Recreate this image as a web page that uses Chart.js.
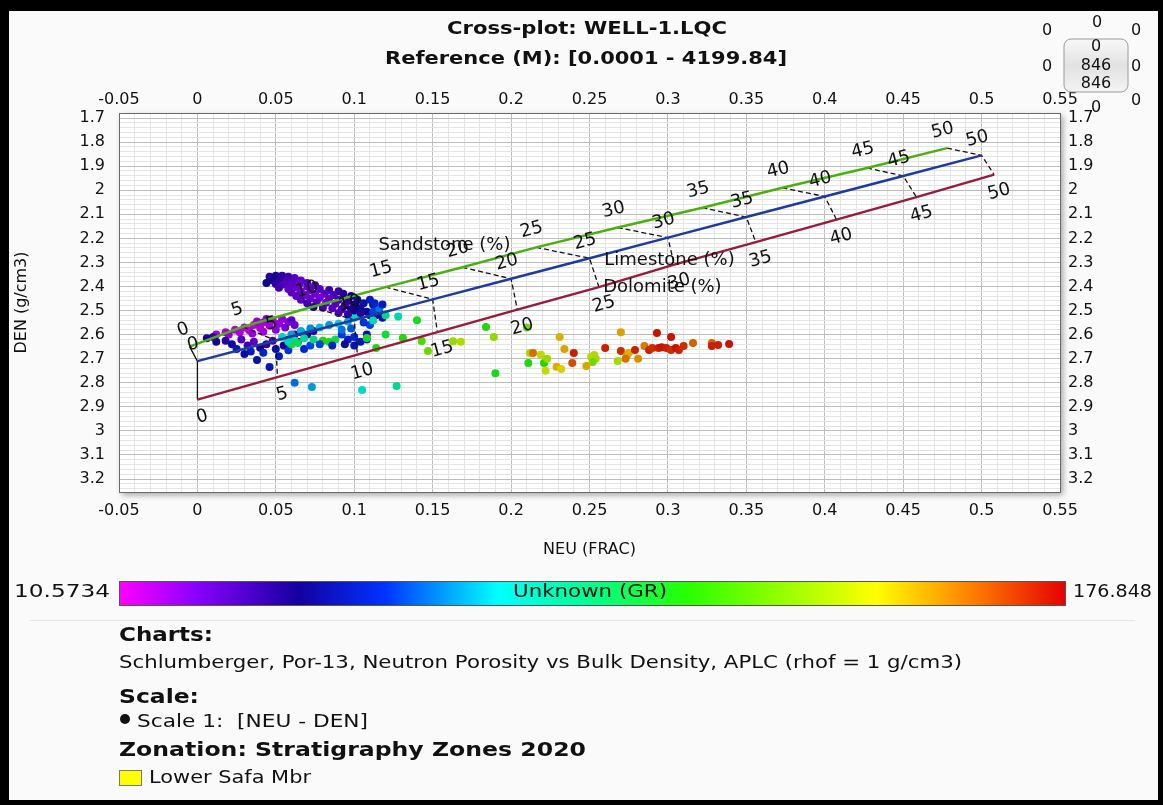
<!DOCTYPE html>
<html>
<head>
<meta charset="utf-8">
<script src="https://cdn.jsdelivr.net/npm/chart.js@4.4.1/dist/chart.umd.min.js"></script>
<style>
  html, body { margin: 0; padding: 0; background: #000; }
  canvas { display: block; }
</style>
</head>
<body>
<canvas id="xplot" width="1163" height="805"></canvas>
<script>
// tick labels
let xTicks = [-0.05, 0, 0.05, 0.1, 0.15, 0.2, 0.25, 0.3, 0.35, 0.4, 0.45, 0.5, 0.55];
let yTicks = [1.7, 1.8, 1.9, 2, 2.1, 2.2, 2.3, 2.4, 2.5, 2.6, 2.7, 2.8, 2.9, 3, 3.1, 3.2];

// Por-13 chart lines (porosity %, neutron, density)
let porLabels = [0, 5, 10, 15, 20, 25, 30, 35, 40, 45, 50];
let sandNeu = [-0.005, 0.029, 0.073, 0.120, 0.169, 0.216, 0.268, 0.322, 0.373, 0.427, 0.478];
let sandDen = [2.65, 2.5675, 2.485, 2.4025, 2.32, 2.2375, 2.155, 2.0725, 1.99, 1.9075, 1.825];
let limeNeu = [0, 0.05, 0.1, 0.15, 0.2, 0.25, 0.3, 0.35, 0.4, 0.45, 0.5];
let limeDen = [2.71, 2.6245, 2.539, 2.4535, 2.368, 2.2825, 2.197, 2.1115, 2.026, 1.9405, 1.855];
let dolNeu = [0, 0.051, 0.102, 0.153, 0.204, 0.256, 0.304, 0.356, 0.4075, 0.4585, 0.508];
let dolDen = [2.87, 2.7765, 2.683, 2.5895, 2.496, 2.4025, 2.309, 2.2155, 2.122, 2.0285, 1.935];

// log samples: NEU, DEN, GR
let neuPts = [
  // violet blob
  0.046, 0.050, 0.054, 0.058, 0.062, 0.048, 0.053, 0.057, 0.061, 0.066,
  0.044, 0.050, 0.055, 0.060, 0.065, 0.070, 0.052, 0.058, 0.064, 0.070,
  0.075, 0.060, 0.066, 0.072, 0.078, 0.084, 0.090, 0.063, 0.069, 0.075,
  0.081, 0.087, 0.093, 0.098, 0.066, 0.072, 0.078, 0.084, 0.090, 0.096,
  0.102, 0.070, 0.076, 0.082, 0.088, 0.094, 0.100, 0.106, 0.110, 0.112,
  0.074, 0.080, 0.086, 0.092, 0.098, 0.104, 0.108, 0.114, 0.116,
  // magenta streak
  0.012, 0.018, 0.024, 0.030, 0.036, 0.042, 0.048, 0.054, 0.020, 0.027,
  0.033, 0.040, 0.046, 0.052, 0.058, 0.035, 0.042, 0.050, 0.044, 0.038,
  0.056, 0.062, 0.060,
  // blue below sandstone line
  0.006, 0.012, 0.010, 0.018, 0.022, 0.028, 0.025, 0.032, 0.036, 0.040,
  0.044, 0.048, 0.050, 0.034, 0.042, 0.055, 0.058, 0.062, 0.066, 0.064,
  0.070, 0.074, 0.068, 0.072, 0.058, 0.038, 0.046, 0.030, 0.052,
  // cyan / light blue near limestone line
  0.060, 0.066, 0.072, 0.078, 0.084, 0.090, 0.096, 0.100, 0.104, 0.062,
  0.068, 0.074, 0.060, 0.064, 0.080, 0.084, 0.088, 0.078, 0.086, 0.092,
  0.096, 0.100, 0.104, 0.108, 0.108, 0.100, 0.094, 0.110, 0.112, 0.106,
  0.098, 0.092, 0.054, 0.058,
  // right blue group
  0.100, 0.104, 0.110, 0.114, 0.118, 0.112, 0.116, 0.113, 0.118, 0.096, 0.090,
  // scattered
  0.062, 0.073, 0.105, 0.127, 0.108, 0.114, 0.120, 0.120, 0.128, 0.140,
  0.131, 0.143, 0.147, 0.112, 0.163, 0.168, 0.184, 0.189, 0.190, 0.210,
  0.212, 0.214, 0.219, 0.211, 0.221, 0.222, 0.223, 0.229, 0.232, 0.231,
  0.234, 0.240, 0.239, 0.248, 0.251, 0.253, 0.254, 0.252, 0.260, 0.268,
  0.270, 0.270, 0.274, 0.275, 0.273, 0.279, 0.281, 0.285, 0.288, 0.290,
  0.293, 0.294, 0.296, 0.299, 0.302, 0.302, 0.305, 0.307, 0.310, 0.316,
  0.328, 0.328, 0.332, 0.339
];
let denPts = [
  2.360, 2.355, 2.355, 2.360, 2.365, 2.375, 2.372, 2.378, 2.380, 2.375,
  2.385, 2.390, 2.392, 2.395, 2.390, 2.385, 2.405, 2.410, 2.405, 2.400,
  2.395, 2.425, 2.420, 2.415, 2.410, 2.415, 2.420, 2.440, 2.435, 2.430,
  2.430, 2.435, 2.430, 2.440, 2.455, 2.450, 2.447, 2.450, 2.455, 2.460,
  2.455, 2.470, 2.465, 2.468, 2.472, 2.478, 2.475, 2.470, 2.455, 2.475,
  2.485, 2.488, 2.490, 2.495, 2.495, 2.490, 2.505, 2.495, 2.510,
  2.600, 2.590, 2.580, 2.570, 2.560, 2.550, 2.540, 2.535, 2.600, 2.590,
  2.582, 2.572, 2.562, 2.555, 2.548, 2.595, 2.588, 2.580, 2.535, 2.545,
  2.570, 2.560, 2.540,
  2.615, 2.630, 2.610, 2.625, 2.640, 2.620, 2.660, 2.645, 2.630, 2.655,
  2.640, 2.625, 2.660, 2.670, 2.675, 2.645, 2.620, 2.600, 2.590, 2.630,
  2.600, 2.585, 2.660, 2.645, 2.665, 2.705, 2.735, 2.680, 2.690,
  2.600, 2.585, 2.575, 2.570, 2.560, 2.555, 2.545, 2.530, 2.525, 2.625,
  2.615, 2.620, 2.640, 2.635, 2.625, 2.630, 2.620, 2.640, 2.645, 2.600,
  2.620, 2.610, 2.630, 2.600, 2.620, 2.645, 2.640, 2.560, 2.540, 2.550,
  2.575, 2.580, 2.610, 2.630,
  2.500, 2.510, 2.520, 2.520, 2.530, 2.505, 2.490, 2.470, 2.475, 2.515, 2.510,
  2.800, 2.818, 2.830, 2.813, 2.614, 2.656, 2.600, 2.520, 2.525, 2.540,
  2.614, 2.626, 2.668, 2.540, 2.628, 2.630, 2.568, 2.610, 2.760, 2.570,
  2.676, 2.676, 2.684, 2.718, 2.718, 2.750, 2.700, 2.734, 2.743, 2.610,
  2.660, 2.676, 2.718, 2.730, 2.693, 2.685, 2.700, 2.714, 2.656, 2.710,
  2.590, 2.668, 2.684, 2.676, 2.700, 2.664, 2.700, 2.647, 2.664, 2.656,
  2.593, 2.656, 2.652, 2.656, 2.610, 2.664, 2.656, 2.664, 2.647, 2.635,
  2.635, 2.647, 2.643, 2.639
];
let grPts = [
  38, 40, 36, 34, 30, 42, 38, 32, 30, 28,
  44, 36, 30, 28, 26, 30, 34, 28, 26, 28,
  32, 30, 26, 28, 30, 34, 36, 28, 24, 26,
  30, 32, 40, 44, 30, 26, 24, 28, 32, 38,
  46, 34, 28, 26, 30, 36, 42, 48, 52, 50,
  38, 32, 30, 34, 40, 46, 44, 55, 50,
  18, 16, 15, 14, 15, 16, 18, 20, 20, 17,
  15, 16, 18, 20, 22, 19, 18, 21, 22, 20,
  24, 26, 28,
  40, 44, 36, 38, 46, 30, 50, 34, 28, 42,
  36, 32, 48, 52, 54, 44, 40, 36, 32, 46,
  40, 36, 56, 60, 58, 48, 50, 46, 52,
  70, 72, 68, 74, 70, 76, 72, 80, 84, 84,
  88, 92, 104, 98, 110, 106, 100, 60, 54, 58,
  52, 56, 50, 48, 54, 50, 46, 60, 64, 58,
  62, 66, 76, 86,
  42, 38, 46, 40, 48, 60, 66, 54, 52, 36, 32,
  65, 70, 80, 90, 105, 108, 102, 92, 85, 106,
  110, 118, 124, 82, 132, 136, 110, 130, 106, 125,
  136, 160, 138, 108, 110, 140, 132, 150, 145, 150,
  152, 172, 165, 152, 138, 136, 134, 125, 172, 134,
  152, 170, 155, 150, 160, 172, 155, 158, 172, 170,
  174, 172, 174, 172, 174, 170, 174, 172, 170, 162,
  162, 172, 172, 174
];
let grMin = 10.5734, grMax = 176.848;

// colour ramp of the GR bar
const ramp = [
  [0.00, [255, 0, 255]], [0.08, [140, 0, 255]], [0.19, [20, 0, 160]],
  [0.28, [0, 50, 255]], [0.40, [0, 255, 255]], [0.50, [0, 255, 140]],
  [0.60, [40, 255, 0]], [0.72, [170, 255, 0]], [0.80, [255, 255, 0]],
  [0.90, [255, 128, 0]], [1.00, [230, 0, 0]]
];
function rampColor(t, k) {
  t = Math.max(0, Math.min(1, t));
  for (let i = 1; i < ramp.length; i++) {
    if (t <= ramp[i][0]) {
      const a = ramp[i - 1], b = ramp[i];
      const f = (t - a[0]) / (b[0] - a[0]);
      const c = a[1].map((v, j) => Math.round((v + (b[1][j] - v) * f) * k));
      return 'rgb(' + c.join(',') + ')';
    }
  }
  return 'rgb(230,0,0)';
}
const grColor = g => rampColor((g - grMin) / (grMax - grMin), 0.85);

const F = '"DejaVu Sans", Verdana, sans-serif';
const fmt = v => String(parseFloat(v.toFixed(3)));
const near = (arr, v) => arr.some(m => Math.abs(m - v) < 1e-6);

function tickList(lo, hi, step) {
  const out = [];
  for (let v = lo; v <= hi + 1e-9; v += step) out.push(Math.round(v * 1000) / 1000);
  return out;
}
const xAll = tickList(-0.05, 0.55, 0.01);
const yAll = tickList(1.68, 3.24, 0.02);

const points = neuPts.map((x, i) => ({ x: x, y: denPts[i] }));
const xy = (xs, ys) => xs.map((x, i) => ({ x: x, y: ys[i] }));

let datasets = [
  { type: 'line', data: xy(sandNeu, sandDen), borderColor: '#4caf10', borderWidth: 2.5, pointRadius: 0, order: 1 },
  { type: 'line', data: xy(limeNeu, limeDen), borderColor: '#1e3c9e', borderWidth: 2.5, pointRadius: 0, order: 1 },
  { type: 'line', data: xy(dolNeu, dolDen), borderColor: '#961c3a', borderWidth: 2.5, pointRadius: 0, order: 1 }
];
porLabels.forEach((p, i) => {
  datasets.push({
    type: 'line',
    data: [{ x: sandNeu[i], y: sandDen[i] }, { x: limeNeu[i], y: limeDen[i] }, { x: dolNeu[i], y: dolDen[i] }],
    borderColor: '#111', borderWidth: 1.3, borderDash: i === 0 ? [] : [5, 3],
    pointRadius: 0, order: 2
  });
});
datasets.push({
  type: 'scatter', data: points, order: 10,
  pointRadius: 4, pointBorderWidth: 0,
  pointBackgroundColor: grPts.map(grColor)
});

function fitText(ctx, text, left, y, w) {
  const m = ctx.measureText(text).width;
  ctx.save();
  ctx.translate(left, y);
  ctx.scale(w / m, 1);
  ctx.textAlign = 'left';
  ctx.fillText(text, 0, 0);
  ctx.restore();
}

const backdrop = {
  id: 'backdrop',
  beforeDraw(chart) {
    const ctx = chart.ctx, a = chart.chartArea;
    ctx.save();
    ctx.fillStyle = '#000';
    ctx.fillRect(0, 0, chart.width, chart.height);
    ctx.fillStyle = '#fafafa';
    ctx.fillRect(9, 11, 1149, 789);
    ctx.shadowColor = 'rgba(0,0,0,0.35)';
    ctx.shadowBlur = 6;
    ctx.shadowOffsetX = 3;
    ctx.shadowOffsetY = 3;
    ctx.fillStyle = '#fff';
    ctx.fillRect(a.left, a.top, a.right - a.left, a.bottom - a.top);
    ctx.restore();
  }
};

function porText(chart, xs, ys, side, dist) {
  const sx = chart.scales.x, sy = chart.scales.y, ctx = chart.ctx;
  for (let i = 0; i < porLabels.length; i++) {
    const px = sx.getPixelForValue(xs[i]), py = sy.getPixelForValue(ys[i]);
    const j0 = Math.max(0, i - 1), j1 = Math.min(xs.length - 1, i + 1);
    const dx = sx.getPixelForValue(xs[j1]) - sx.getPixelForValue(xs[j0]);
    const dy = sy.getPixelForValue(ys[j1]) - sy.getPixelForValue(ys[j0]);
    const ang = Math.atan2(dy, dx);
    const nx = Math.sin(ang) * side * dist, ny = -Math.cos(ang) * side * dist;
    ctx.save();
    ctx.translate(px + nx, py + ny);
    ctx.rotate(ang);
    ctx.fillText(String(porLabels[i]), 0, 0);
    ctx.restore();
  }
}

const overlay = {
  id: 'overlay',
  afterDatasetsDraw(chart) {
    const ctx = chart.ctx, sx = chart.scales.x, sy = chart.scales.y;
    ctx.save();
    ctx.fillStyle = '#111';
    ctx.textAlign = 'center';
    ctx.textBaseline = 'middle';
    ctx.font = '18px ' + F;
    porText(chart, sandNeu, sandDen, 1, 18);
    porText(chart, limeNeu, limeDen, 1, 17);
    porText(chart, dolNeu, dolDen, -1, 18);
    ctx.font = '18px ' + F;
    ctx.fillText('Sandstone (%)', sx.getPixelForValue(0.1575), sy.getPixelForValue(2.227));
    ctx.fillText('Limestone (%)', sx.getPixelForValue(0.301), sy.getPixelForValue(2.29));
    ctx.fillText('Dolomite (%)', sx.getPixelForValue(0.2965), sy.getPixelForValue(2.402));
    ctx.restore();
  },
  afterDraw(chart) {
    const ctx = chart.ctx;
    ctx.save();
    ctx.fillStyle = '#111';
    ctx.textBaseline = 'middle';
    // titles
    ctx.font = 'bold 17px ' + F;
    fitText(ctx, 'Cross-plot: WELL-1.LQC', 447, 30, 280);
    fitText(ctx, 'Reference (M): [0.0001 - 4199.84]', 385, 60, 402);

    // small counter box, top right
    const g = ctx.createLinearGradient(0, 39, 0, 92);
    g.addColorStop(0, '#f8f8f8'); g.addColorStop(0.5, '#e2e2e2'); g.addColorStop(1, '#f4f4f4');
    ctx.fillStyle = g;
    ctx.strokeStyle = '#9a9a9a';
    ctx.beginPath();
    ctx.roundRect(1064, 39, 64, 53, 7);
    ctx.fill(); ctx.stroke();
    ctx.fillStyle = '#111';
    ctx.font = '16px ' + F;
    ctx.textAlign = 'center';
    [[1047, 31, '0'], [1097, 23, '0'], [1136, 31, '0'], [1096, 47, '0'], [1096, 66, '846'],
     [1096, 84, '846'], [1047, 67, '0'], [1136, 67, '0'], [1096, 108, '0'], [1136, 101, '0']]
      .forEach(t => ctx.fillText(t[2], t[0], t[1]));

    // GR colour bar
    const bx0 = 119, bx1 = 1066, by0 = 581, by1 = 606;
    const lg = ctx.createLinearGradient(bx0, 0, bx1, 0);
    ramp.forEach(s => lg.addColorStop(s[0], rampColor(s[0], 1)));
    ctx.fillStyle = lg;
    ctx.fillRect(bx0, by0, bx1 - bx0, by1 - by0);
    ctx.strokeStyle = '#555';
    ctx.lineWidth = 1;
    ctx.strokeRect(bx0 + 0.5, by0 + 0.5, bx1 - bx0 - 1, by1 - by0 - 1);
    ctx.fillStyle = '#111';
    ctx.font = '17px ' + F;
    ctx.textAlign = 'left';
    fitText(ctx, String(grMin), 14, 593, 96);
    fitText(ctx, String(grMax), 1073, 593, 79);
    fitText(ctx, 'Unknown (GR)', 513, 593, 154);

    ctx.strokeStyle = '#e4e4e4';
    ctx.beginPath(); ctx.moveTo(30, 620.5); ctx.lineTo(1135, 620.5); ctx.stroke();

    // legend block
    ctx.font = 'bold 20px ' + F;
    fitText(ctx, 'Charts:', 119, 636, 94);
    ctx.font = '18px ' + F;
    fitText(ctx, 'Schlumberger, Por-13, Neutron Porosity vs Bulk Density, APLC (rhof = 1 g/cm3)', 119, 663, 843);
    ctx.font = 'bold 20px ' + F;
    fitText(ctx, 'Scale:', 119, 698, 80);
    ctx.beginPath(); ctx.arc(125, 719, 5, 0, Math.PI * 2); ctx.fill();
    ctx.font = '18px ' + F;
    fitText(ctx, 'Scale 1:  [NEU - DEN]', 137, 722, 231);
    ctx.font = 'bold 20px ' + F;
    fitText(ctx, 'Zonation: Stratigraphy Zones 2020', 119, 751, 467);
    ctx.fillStyle = '#ffff00';
    ctx.fillRect(119, 770, 22, 15);
    ctx.strokeStyle = '#777';
    ctx.strokeRect(119.5, 770.5, 22, 15);
    ctx.fillStyle = '#111';
    ctx.font = '18px ' + F;
    fitText(ctx, 'Lower Safa Mbr', 149, 778, 162);
    ctx.restore();
  }
};

const tickFont = { family: F, size: 16 };
const gridColor = list => c => (c.tick && near(list, c.tick.value)) ? '#bdbdbd' : '#e4e4e4';

new Chart(document.getElementById('xplot'), {
  type: 'scatter',
  data: { datasets: datasets },
  options: {
    responsive: false,
    animation: false,
    layout: { padding: { left: 0, right: 0, top: 0, bottom: 242 } },
    plugins: { legend: { display: false }, tooltip: { enabled: false } },
    scales: {
      x: {
        type: 'linear', position: 'bottom', min: -0.05, max: 0.55,
        afterBuildTicks: s => { s.ticks = xAll.map(v => ({ value: v })); },
        afterFit: s => { s.height = 71; },
        ticks: { autoSkip: false, maxRotation: 0, padding: 9, color: '#111', font: tickFont,
                 callback: v => near(xTicks, v) ? fmt(v) : '' },
        grid: { color: gridColor(xTicks), drawTicks: false },
        border: { color: '#6a6a6a' },
        title: { display: true, text: 'NEU (FRAC)', color: '#111', font: { family: F, size: 16 }, padding: { top: 0, bottom: 4 } }
      },
      x2: {
        type: 'linear', position: 'top', min: -0.05, max: 0.55,
        afterBuildTicks: s => { s.ticks = xTicks.map(v => ({ value: v })); },
        afterFit: s => { s.height = 113; },
        ticks: { autoSkip: false, maxRotation: 0, padding: 4, color: '#111', font: tickFont, callback: v => fmt(v) },
        grid: { display: false, drawTicks: false },
        border: { color: '#6a6a6a' }
      },
      y: {
        type: 'linear', position: 'left', reverse: true, min: 1.679, max: 3.254,
        afterBuildTicks: s => { s.ticks = yAll.map(v => ({ value: v })); },
        afterFit: s => { s.width = 119; },
        ticks: { autoSkip: false, padding: 14, color: '#111', font: tickFont,
                 callback: v => near(yTicks, v) ? fmt(v) : '' },
        grid: { color: gridColor(yTicks), drawTicks: false },
        border: { color: '#6a6a6a' },
        title: { display: true, text: 'DEN (g/cm3)', color: '#111', font: { family: F, size: 16 }, padding: { top: 12, bottom: 0 } }
      },
      y2: {
        type: 'linear', position: 'right', reverse: true, min: 1.679, max: 3.254,
        afterBuildTicks: s => { s.ticks = yTicks.map(v => ({ value: v })); },
        afterFit: s => { s.width = 103; },
        ticks: { autoSkip: false, padding: 8, color: '#111', font: tickFont, callback: v => fmt(v) },
        grid: { display: false, drawTicks: false },
        border: { color: '#6a6a6a' }
      }
    }
  },
  plugins: [backdrop, overlay]
});
</script>
</body>
</html>
